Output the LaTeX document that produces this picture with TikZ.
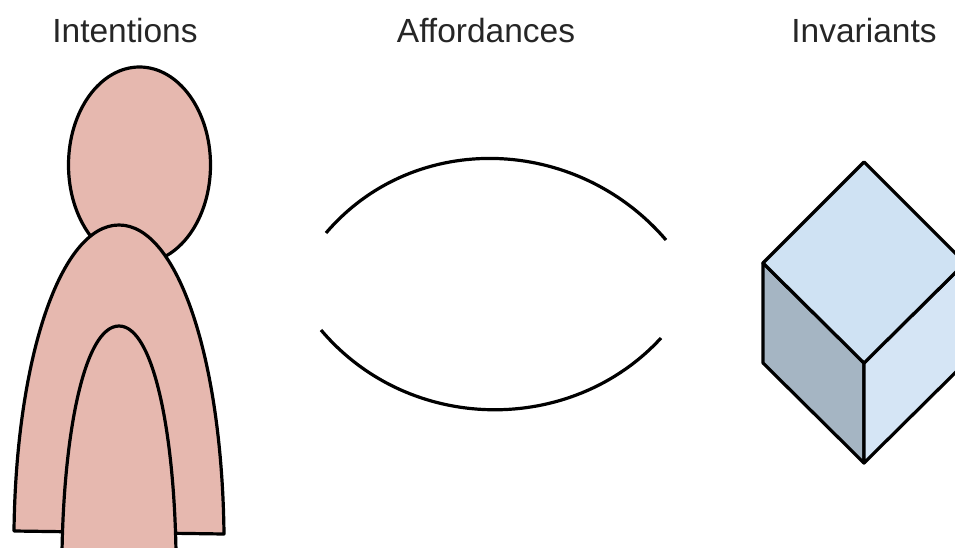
\documentclass[tikz,border=0pt]{standalone}
\usepackage{fontspec}
\setmainfont{Liberation Sans}
\definecolor{skin}{HTML}{E6B8AF}
\definecolor{cubetop}{HTML}{CFE2F3}
\definecolor{cuberight}{HTML}{D5E5F5}
\definecolor{cubeleft}{HTML}{A5B5C3}
\tikzset{
  px/.style={x=1pt,y=-1pt},
  outline/.style={draw=black,line width=3.2pt,line join=round},
  lbl/.style={font=\fontsize{33.5}{38}\selectfont,text=black!85,inner sep=0pt}
}
\begin{document}
\begin{tikzpicture}[px]
\useasboundingbox (0,0) rectangle (955,548);
\clip (0,0) rectangle (955,548);
\node[lbl] (t1) at (125,31) {Intentions};
\node[lbl] (t2) at (486,31) {Affordances};
\node[lbl] (t3) at (864,31) {Invariants};
\draw[outline,fill=skin] (139.5,165) ellipse (71 and 98);
\draw[outline,fill=skin] (14,531) .. controls (16,360) and (60,225) .. (119,225) .. controls (178,225) and (222,360) .. (224,534) -- cycle;
\draw[outline,fill=skin] (62,552) .. controls (64,430) and (85,326) .. (119,326) .. controls (153,326) and (174,430) .. (176,552) -- cycle;
\draw[outline] (326,233) .. controls (415,129) and (577,136) .. (666,240);
\draw[outline] (321,330) .. controls (410,435) and (572,435) .. (661,338);
\draw[outline,fill=cubeleft] (763,263) -- (864,363) -- (864,463) -- (763,363) -- cycle;
\draw[outline,fill=cuberight] (864,363) -- (965,263) -- (965,363) -- (864,463) -- cycle;
\draw[outline,fill=cubetop] (864,162) -- (965,263) -- (864,363) -- (763,263) -- cycle;
\end{tikzpicture}
\end{document}
